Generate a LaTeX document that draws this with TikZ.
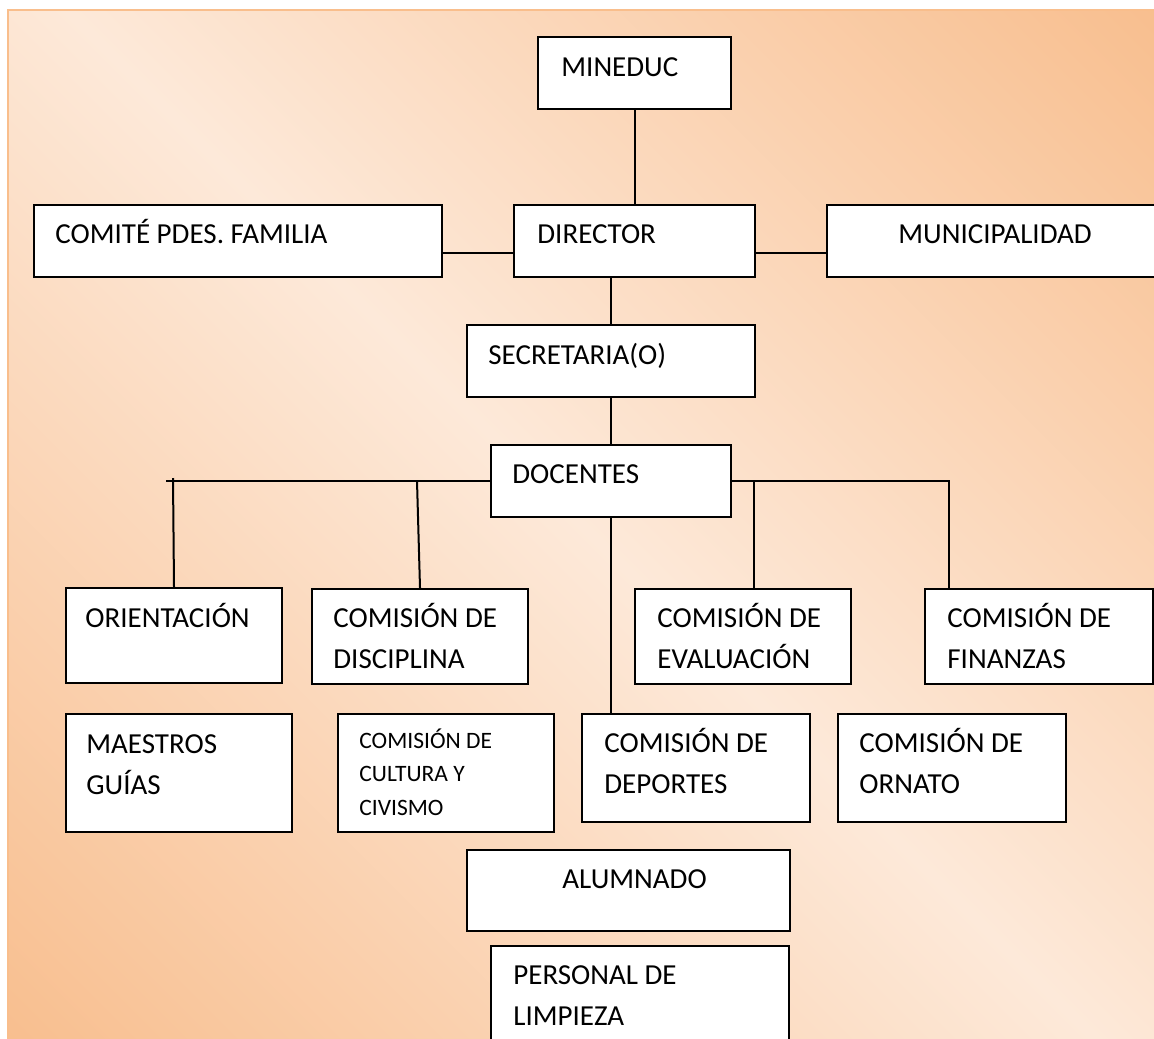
\documentclass[tikz,border=0pt]{standalone}
\usepackage{fontspec}
\setmainfont{Carlito}
\usetikzlibrary{fit,calc}
\definecolor{orng}{HTML}{F8BE8E}
\definecolor{lite}{HTML}{FDE9D9}
\definecolor{edge}{HTML}{F9BE8C}
\pgfdeclareverticalshading{bgdiag}{100bp}{color(0bp)=(orng); color(14bp)=(orng); color(50bp)=(lite); color(86bp)=(orng); color(100bp)=(orng)}
\newcommand{\bigf}{\fontsize{14.5pt}{20.5pt}\selectfont}
\newcommand{\smlf}{\fontsize{11.75pt}{16.75pt}\selectfont}
\newcommand{\ml}[1]{\begin{tabular}[t]{@{}l@{}}#1\end{tabular}}
\begin{document}
\begin{tikzpicture}[x=0.5pt,y=-0.5pt,
  box/.style={draw=black,line width=1.2pt,fill=white,inner sep=0pt},
  lbl/.style={anchor=base west,inner sep=0pt,font=\bigf},
  sml/.style={anchor=base west,inner sep=0pt,font=\smlf},
  conn/.style={draw=black,line width=1pt}]
\useasboundingbox (0,0) rectangle (1154,1038);
\clip (0,0) rectangle (1154,1038);
\fill[white] (0,0) rectangle (1154,1038);
\begin{scope}[x=1pt,y=1pt]
\shade[shading=bgdiag, shading angle=-45] (4,-5) rectangle (577,-519);
\end{scope}
\draw[edge,line width=0.8pt] (1170,10) -- (8,10) -- (8,1050);
% boxes
\node[box,fit={(538,37) (731,109)}] (mineduc) {};
\node[box,fit={(514,205) (755,277)}] (director) {};
\node[box,fit={(34,205) (442,277)}] (comite) {};
\node[box,fit={(827,205) (1175,277)}] (munic) {};
\node[box,fit={(467,325) (755,397)}] (secret) {};
\node[box,fit={(491,445) (731,517)}] (docentes) {};
\node[box,fit={(66,588) (282,683)}] (orient) {};
\node[box,fit={(312,589) (528,684)}] (discip) {};
\node[box,fit={(635,589) (851,684)}] (evalua) {};
\node[box,fit={(925,589) (1153,684)}] (finanz) {};
\node[box,fit={(66,714) (292,832)}] (maestros) {};
\node[box,fit={(338,714) (554,832)}] (cultura) {};
\node[box,fit={(582,714) (810,822)}] (deportes) {};
\node[box,fit={(838,714) (1066,822)}] (ornato) {};
\node[box,fit={(467,850) (790,931)}] (alumnado) {};
\node[box,fit={(491,946) (789,1080)}] (personal) {};
% texts
\node[lbl] (t-mineduc) at (561,76) {MINEDUC};
\node[lbl] (t-director) at (537,243) {DIRECTOR};
\node[lbl] (t-comite) at (55,243) {COMITÉ PDES. FAMILIA};
\node[lbl] (t-munic) at (898,243) {MUNICIPALIDAD};
\node[lbl] (t-secret) at (488,364) {SECRETARIA(O)};
\node[lbl] (t-docentes) at (512,483) {DOCENTES};
\node[lbl] (t-orient) at (85,627) {ORIENTACIÓN};
\node[lbl] (t-discip) at (333,627) {\ml{COMISIÓN DE\\DISCIPLINA}};
\node[lbl] (t-evalua) at (657,627) {\ml{COMISIÓN DE\\EVALUACIÓN}};
\node[lbl] (t-finanz) at (947,627) {\ml{COMISIÓN DE\\FINANZAS}};
\node[lbl] (t-maestros) at (86,753) {\ml{MAESTROS\\GUÍAS}};
\node[sml] (t-cultura) at (359,748) {\ml{COMISIÓN DE\\CULTURA Y\\CIVISMO}};
\node[lbl] (t-deportes) at (604,752) {\ml{COMISIÓN DE\\DEPORTES}};
\node[lbl] (t-ornato) at (859,752) {\ml{COMISIÓN DE\\ORNATO}};
\node[lbl] (t-alumnado) at (562,888) {ALUMNADO};
\node[lbl] (t-personal) at (513,984) {\ml{PERSONAL DE\\LIMPIEZA}};
% connectors
\coordinate (lend) at (166,481);
\coordinate (ev) at ($(evalua.north west)+(120,0)$);
\coordinate (fn) at ($(finanz.north west)+(25,0)$);
\draw[conn] (mineduc) -- (director);
\draw[conn] ($(comite.east)+(0,12)$) -- ($(director.west)+(0,12)$);
\draw[conn] ($(director.east)+(0,12)$) -- ($(munic.west)+(0,12)$);
\draw[conn] (secret.north) -- (secret.north |- director.south);
\draw[conn] (secret) -- (docentes);
\draw[conn] (docentes.west) -- (lend);
\draw[conn] (orient.north) -- ($(orient.north |- docentes.west)+(-1,-3)$);
\draw[conn] (discip.north) -- ($(discip.north |- docentes.west)+(-3,0)$);
\draw[conn] (docentes.east) -| (fn);
\draw[conn] (ev) -- (ev |- docentes.east);
\draw[conn] (docentes.south) -- (docentes.south |- deportes.north);
\end{tikzpicture}
\end{document}
